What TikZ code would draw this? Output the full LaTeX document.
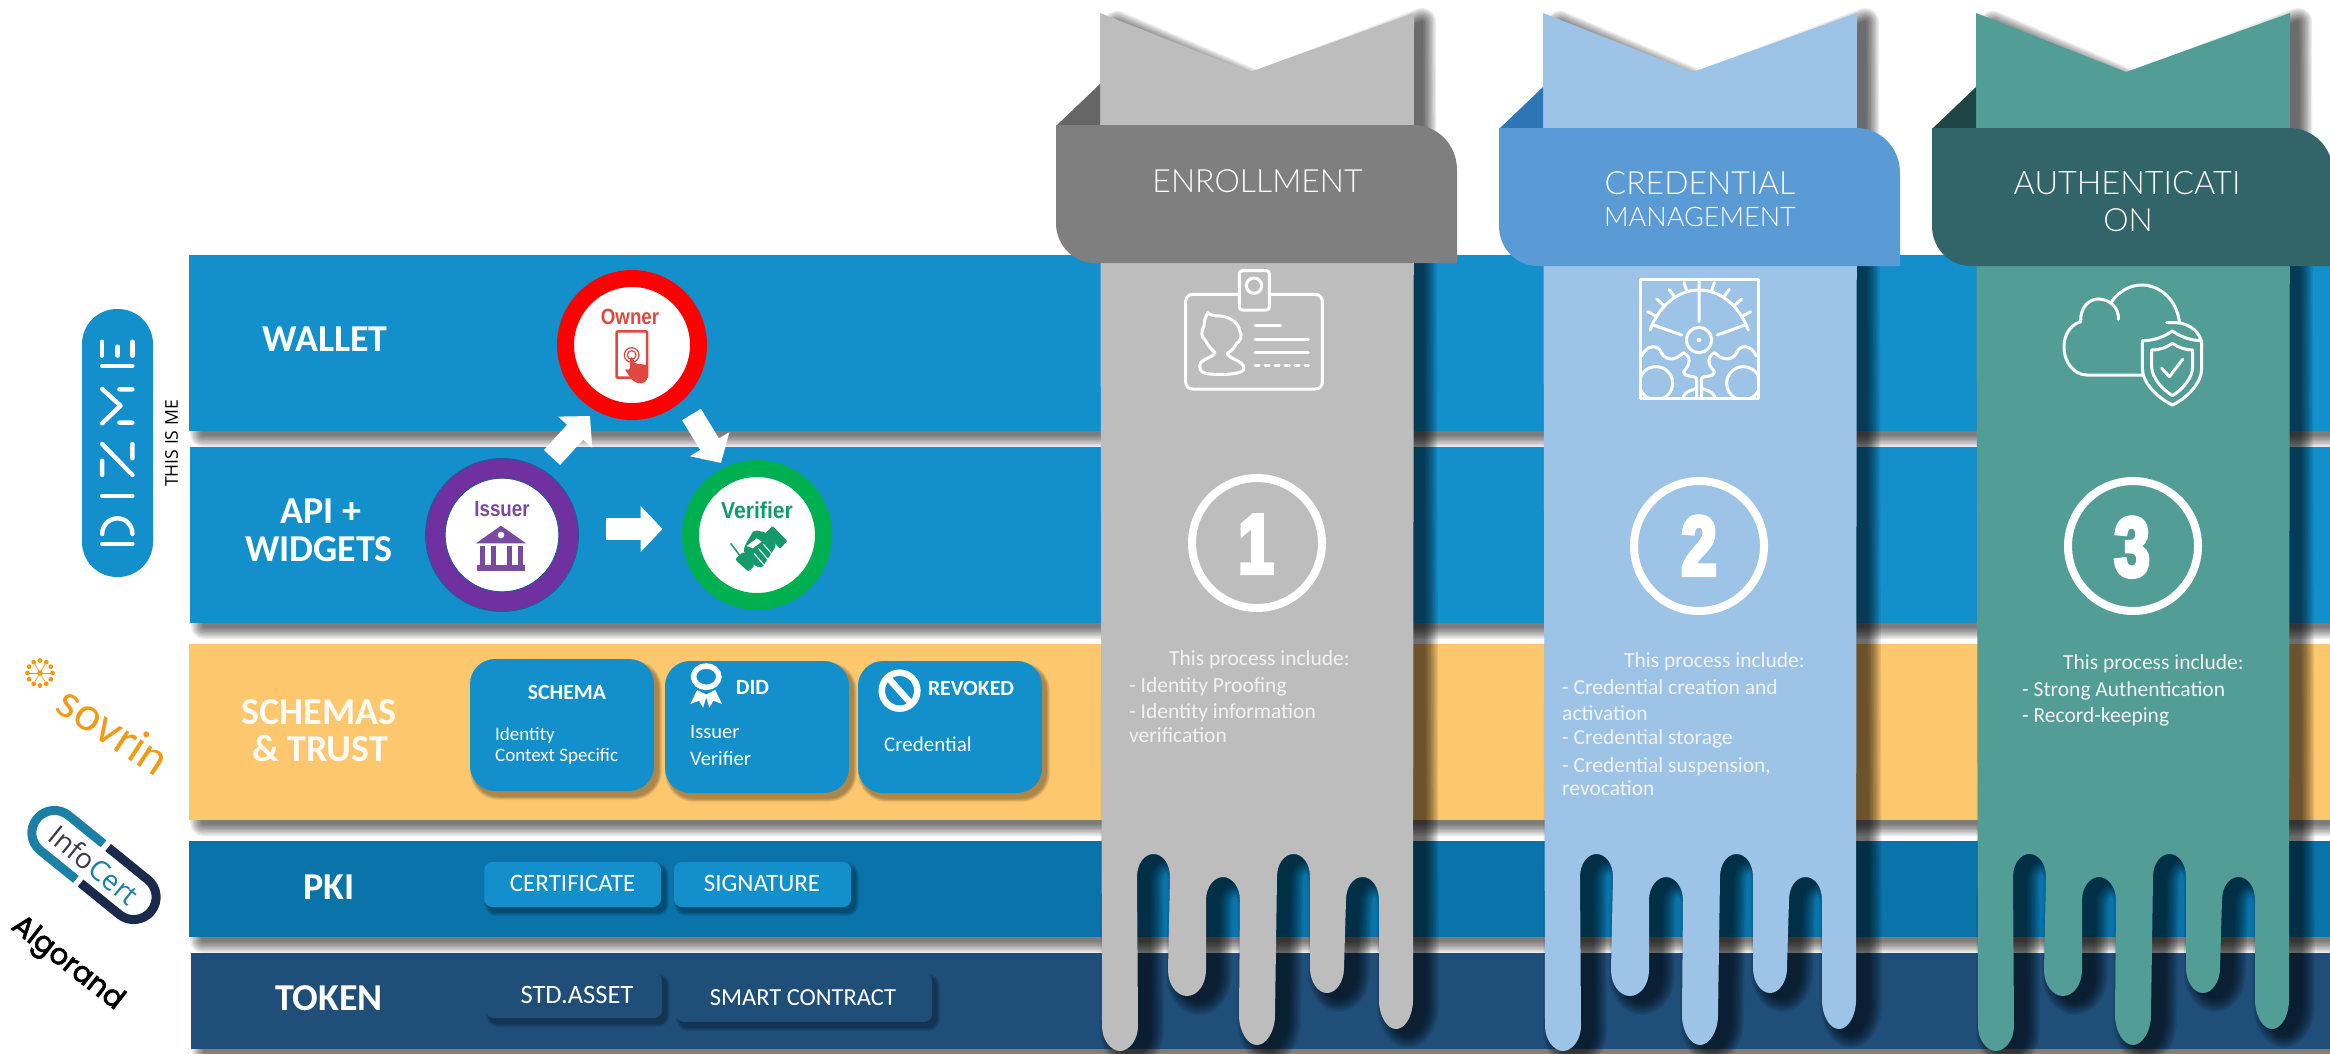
\documentclass[tikz,border=0pt]{standalone}
\usepackage{fontspec}
\usetikzlibrary{arrows.meta,calc}
\setmainfont{Carlito}
\newfontfamily\ltf{Lato Light}
\newfontfamily\latof{Lato}
\newfontfamily\opsf{Open Sans}
\newfontfamily\popf[FakeBold=2.5]{Poppins}
\newfontfamily\lsb{Liberation Sans Bold}
\newfontfamily\impf[FakeBold=5,FakeStretch=.75]{Liberation Sans Bold}
\newcommand\fsz[1]{\fontsize{#1}{#1}\selectfont}
\newcommand\sq[2]{\scalebox{#1}[1]{#2}}
\definecolor{bandblue}{HTML}{138FCC}
\definecolor{bandyellow}{HTML}{FDC76E}
\definecolor{bandpki}{HTML}{0A73A9}
\definecolor{bandtoken}{HTML}{1F4E79}
\definecolor{ribA}{HTML}{BDBDBD}
\definecolor{banA}{HTML}{7F7F7F}
\definecolor{foldA}{HTML}{666666}
\definecolor{ribB}{HTML}{9DC3E6}
\definecolor{banB}{HTML}{5B9BD5}
\definecolor{foldB}{HTML}{2E75B6}
\definecolor{ribC}{HTML}{539D97}
\definecolor{banC}{HTML}{326569}
\definecolor{foldC}{HTML}{1F4545}
\definecolor{ownerred}{HTML}{E0473F}
\definecolor{issuerpur}{HTML}{784B9F}
\definecolor{verifgreen}{HTML}{14996B}
\definecolor{softwhite}{HTML}{F2F2F2}
\definecolor{ringpur}{HTML}{7030A0}
\definecolor{ringedge}{HTML}{2F5597}
\definecolor{ringgreen}{HTML}{00B050}
\definecolor{sovorange}{HTML}{F09A16}
\definecolor{infoteal}{HTML}{1B7FA6}
\definecolor{infonavy}{HTML}{1A2A4A}
\definecolor{infogray}{HTML}{3B3B4B}
\newcommand\softsh[5]{% path, shift, blur total, layers, alpha
  \foreach \i in {1,...,#4}{%
    \pgfmathsetmacro\wid{#3*\i/#4}%
    \begin{scope}[shift={#2},transparency group,opacity=#5]
      \path[fill=black,draw=black,line width=\wid pt,line join=round] #1;
    \end{scope}}}
\def\ribbonBody{(1413,1000)
 .. controls (1413,1016) and (1405,1029) .. (1396,1029) .. controls (1387,1029) and (1379,1016) .. (1379,1000)
 -- (1379,900) .. controls (1379,887) and (1372,877) .. (1362.5,877) .. controls (1353,877) and (1346,887) .. (1346,900)
 -- (1344,968) .. controls (1344,982) and (1336,993) .. (1327,993) .. controls (1318,993) and (1310,982) .. (1310,968)
 -- (1310,877) .. controls (1310,864) and (1303,854) .. (1293.5,854) .. controls (1284,854) and (1277,864) .. (1277,877)
 -- (1275,1015) .. controls (1275,1032) and (1266,1045) .. (1257,1045) .. controls (1248,1045) and (1239,1032) .. (1239,1015)
 -- (1240,900) .. controls (1240,887) and (1232,877) .. (1223,877) .. controls (1214,877) and (1206,887) .. (1206,900)
 -- (1206,970) .. controls (1206,985) and (1197,996) .. (1187,996) .. controls (1177,996) and (1168,985) .. (1168,970)
 -- (1170,877) .. controls (1170,864) and (1163,854) .. (1153.5,854) .. controls (1144,854) and (1137,864) .. (1137,877)
 -- (1138,1026) .. controls (1138,1040) and (1129,1051) .. (1120,1051) .. controls (1111,1051) and (1102,1040) .. (1102,1026)
 -- cycle}
\def\ribbonP{(1100,13) -- (1250,72) -- (1414,13) -- \ribbonBody}
\def\ribbonS{(1105,20) -- (1245,80) -- (1410,17) -- \ribbonBody}
\def\bannerP{(1056,125) -- (1413,125) .. controls (1438,125) and (1457,145) .. (1457,170) -- (1457,263) -- (1095,263)
 .. controls (1073,263) and (1056,245) .. (1056,223) -- cycle}
\tikzset{
  zoomat/.style 2 args={shift={(#1,#2)},x=0.33333pt,y=-0.33333pt},
  zoomwide/.style n args={3}{shift={(#1,#2)},x=#3 pt,y=-0.33333pt},
  headlbl/.style={text=white,anchor=base,inner sep=0pt,font=\bfseries\fsz{38}},
  banlbl/.style={text=white,anchor=base,inner sep=0pt,font=\ltf\fsz{32}},
  boxlbl/.style={text=white,anchor=base,inner sep=0pt},
  boxleft/.style={text=white,anchor=base west,inner sep=0pt},
  bodytxt/.style={text=softwhite,anchor=base west,inner sep=0pt,font=\fsz{21.5}},
  ring/.style={circle,inner sep=0pt,fill=white},
  blockarrow/.style={draw=white,line width=22pt,-{Triangle[length=22pt,width=45pt,fill=white]}},
  iconline/.style={draw=white,line width=3pt,line cap=round,line join=round},
  bignum/.style={circle,draw=white,line width=8pt,minimum size=130pt,inner sep=0pt},
  bigdigit/.style={text=white,inner sep=0pt,anchor=base,font=\impf\fsz{84}},
}
\begin{document}
\begin{tikzpicture}[x=1pt,y=-1pt]
\useasboundingbox (0,0) rectangle (2330,1053);
\fill[white] (0,0) rectangle (2330,1053);
% band shadows
\foreach \xa/\ya/\yb in {189/255/431,190/447/623,189/644/820,189/841/937,191/953/1049}{
  \begin{scope}
    \clip (0,\yb) rectangle (2330,\yb+24);
    \softsh{(\xa,\ya) rectangle (2400,\yb)}{(14,3)}{26}{9}{0.075}
  \end{scope}}
% bands
\fill[bandblue] (189,255) rectangle (2330,431);
\fill[bandblue] (190,447) rectangle (2330,623);
\fill[bandyellow] (189,644) rectangle (2330,820);
\fill[bandpki] (189,841) rectangle (2330,937);
\fill[bandtoken] (191,953) rectangle (2330,1049);
% band labels
\node[headlbl] (lwallet) at (325,351) {WALLET};
\node[headlbl] (lapi) at (321,523) {API +};
\node[headlbl] (lwidgets) at (319,561) {WIDGETS};
\node[headlbl,text=white!92!bandyellow] (lschemas) at (319,724) {SCHEMAS};
\node[headlbl,text=white!92!bandyellow] (ltrust) at (320,761) {\& TRUST};
\node[headlbl] (lpki) at (329,899.5) {PKI};
\node[headlbl] (ltoken) at (329,1010.5) {TOKEN};
% small boxes
\foreach \xa/\ya/\xb/\yb/\r/\c in {470/659/654/791/25/bandblue,665/661/849/793/25/bandblue,858/661/1042/793/25/bandblue,484.4/862/661/907/8/bandblue,674/862/851/907/8/bandblue,486/973/662/1018/8/bandtoken,676/973/932/1022/8/bandtoken}{
  \softsh{[rounded corners=\r pt] (\xa,\ya) rectangle (\xb,\yb)}{(4,5)}{8}{5}{0.07}
  \fill[\c,rounded corners=\r pt] (\xa,\ya) rectangle (\xb,\yb);}
\node[boxlbl,font=\bfseries\fsz{21.7}] (tschema) at (567,699) {SCHEMA};
\node[boxleft,font=\fsz{19}] (tident) at (495,740) {Identity};
\node[boxleft,font=\fsz{19}] (tctx) at (495,761) {Context Specific};
\node[boxlbl,font=\bfseries\fsz{21.7}] (tdid) at (752.5,694) {DID};
\node[boxleft,font=\fsz{20.5}] (tiss) at (690,738.3) {Issuer};
\node[boxleft,font=\fsz{20.5}] (tver) at (690,765) {Verifier};
\node[boxlbl,font=\bfseries\fsz{21.7}] (trev) at (971,695) {REVOKED};
\node[boxleft,font=\fsz{21}] (tcred) at (884,751) {Credential};
\node[boxlbl,font=\fsz{25}] (tcert) at (572.6,891.5) {CERTIFICATE};
\node[boxlbl,font=\fsz{25}] (tsig) at (762,891.5) {SIGNATURE};
\node[boxlbl,font=\fsz{26.5}] (tstd) at (577,1003.5) {STD.ASSET};
\node[boxlbl,font=\fsz{24.5}] (tsmart) at (803,1005.5) {SMART CONTRACT};
% DID medal and revoked icons
\begin{scope}[zoomwide={450}{640}{0.3954}]
  \fill[white] (625,150) -- (608,192) -- (630,182) -- (640,203) -- (650,165) -- cycle;
  \fill[white] (671,150) -- (688,192) -- (666,182) -- (656,203) -- (646,165) -- cycle;
  \draw[white,line width=5.5pt,fill=bandblue] (648,110) circle[radius=32];
  \draw[white,line width=6.5pt] (1137,152) ellipse[x radius=45,y radius=54];
  \draw[white,line width=6.5pt] (1107,112) -- (1167,192);
\end{scope}
% circles
\node[ring,draw=red,line width=17pt,minimum size=133pt] (owner) at (632,345) {};
\node[ring,draw=ringpur,line width=19.5pt,minimum size=133pt] (issuer) at (502,535) {};
\draw[ringedge,line width=1.2pt] (issuer.center) circle[radius=76.4] (issuer.center) circle[radius=57];
\node[ring,draw=ringgreen,line width=17pt,minimum size=133pt] (verifier) at (757,535) {};
\node[text=ownerred,inner sep=0pt,anchor=base,font=\lsb\fsz{22}] (towner) at (630,324) {\sq{.85}{Owner}};
\node[text=issuerpur,inner sep=0pt,anchor=base,font=\lsb\fsz{22}] (tissuer) at (502,516) {\sq{.85}{Issuer}};
\node[text=verifgreen,inner sep=0pt,anchor=base,font=\lsb\fsz{23}] (tverifier) at (757,518.5) {\sq{.92}{Verifier}};
\begin{scope}[zoomat={400}{240}]
  % owner phone
  \draw[ownerred,line width=2.5pt,rounded corners=1pt] (650,274) rectangle (741,413);
  \draw[ownerred,line width=1.2pt] (695,345) circle[radius=22] (695,345) circle[radius=13];
  \fill[ownerred,rounded corners=3pt] (672,385) -- (690,392) -- (689,352) -- (701,352) -- (702,370) -- (743,375) -- (743,420) -- (725,432) -- (700,425) -- cycle;
  % issuer bank
  \fill[issuerpur] (228,910) -- (303,857) -- (378,910) -- cycle;
  \fill[white] (303,885) circle[radius=10];
  \fill[issuerpur] (232,975) rectangle (376,992);
  \foreach \cx in {240,273,320,353}{\fill[issuerpur] (\cx,918) rectangle (\cx+15,975);}
  % verifier handshake
  \draw[verifgreen,line width=1.5pt] (992,910) -- (1022,950);
  \fill[verifgreen,rounded corners=2pt] (1005,958) -- (1030,935) -- (1065,975) -- (1045,995) -- cycle;
  \fill[verifgreen,rounded corners=3pt] (1035,915) -- (1062,870) -- (1100,878) -- (1130,915) -- (1085,985) -- (1060,975) -- (1030,935) -- cycle;
  \fill[verifgreen,rounded corners=1pt] (1118,858) -- (1162,903) -- (1140,926) -- (1096,880) -- cycle;
  \draw[white,line width=1.1pt] (1062,940) -- (1092,975) (1075,925) -- (1105,960) (1090,912) -- (1118,945);
  \fill[white] (1040,918) -- (1070,895) -- (1085,905) -- (1058,925) -- cycle;
\end{scope}
% arrows
\coordinate (a1s) at (552,457.5);
\coordinate (a1e) at (590,416);
\coordinate (a2s) at (691.5,414.5);
\coordinate (a2e) at (721,463);
\coordinate (a3s) at (606,529);
\coordinate (a3e) at (662.5,529);
\draw[blockarrow] (a1s) -- (a1e);
\draw[blockarrow] (a2s) -- (a2e);
\draw[blockarrow] (a3s) -- (a3e);
% ribbons
\foreach \dx/\rc/\bc/\fc/\dy in {0/ribA/banA/foldA/0,443/ribB/banB/foldB/3,876/ribC/banC/foldC/3}{
  \begin{scope}[shift={(\dx,0)}]
    \begin{scope}
      \clip (1100,0) rectangle (2400,1053);
      \softsh{\ribbonS}{(12,5)}{28}{10}{0.077}
    \end{scope}
    \fill[\rc] \ribbonP;
    \begin{scope}[shift={(0,\dy)}]
      \fill[\fc] (1056,126) -- (1100,84) -- (1100,126) -- cycle;
      \fill[\bc] \bannerP;
    \end{scope}
  \end{scope}}
% banner titles
\node[banlbl] (benr) at (1257.5,192.5) {ENROLLMENT};
\node[banlbl] (bcre) at (1700,194) {CREDENTIAL};
\node[banlbl,font=\ltf\fsz{27}] (bman) at (1700,226) {MANAGEMENT};
\node[banlbl,font=\ltf\fsz{32.5}] (baut) at (2127,194) {AUTHENTICATI};
\node[banlbl,font=\ltf\fsz{32}] (bon) at (2128,231.7) {ON};
% badge icon
\begin{scope}[zoomat={1040}{0}]
  \draw[iconline,rounded corners=7pt] (437,883) rectangle (847,1167);
  \draw[iconline,fill=ribA,rounded corners=3pt] (598,812) rectangle (688,930);
  \draw[iconline] (642,857) circle[radius=23];
  \draw[iconline] (503,938) .. controls (510,945) and (520,948) .. (540,948) .. controls (575,950) and (598,975) .. (598,990) .. controls (610,1005) and (600,1025) .. (590,1030) .. controls (582,1045) and (572,1055) .. (562,1060) .. controls (562,1075) and (612,1082) .. (612,1105) .. controls (612,1125) and (540,1125) .. (510,1122) .. controls (478,1122) and (475,1100) .. (482,1088) .. controls (492,1075) and (520,1072) .. (525,1058) .. controls (510,1045) and (500,1030) .. (497,1022) .. controls (480,1010) and (485,990) .. (492,978) .. controls (492,960) and (498,950) .. (503,938) -- cycle;
  \draw[iconline] (645,975) -- (722,975) (645,1017) -- (805,1017) (645,1058) -- (805,1058);
  \draw[iconline,dash pattern=on 4pt off 6pt] (645,1095) -- (805,1095);
\end{scope}
% gear icon
\begin{scope}[zoomat={1480}{0}]
  \begin{scope}
    \clip (480,838) rectangle (836,1195);
    \draw[iconline] (528,1150) circle[radius=50] (790,1150) circle[radius=50];
    \draw[iconline] (485,1068) .. controls (500,1035) and (535,1030) .. (545,1060) .. controls (560,1085) and (590,1080) .. (610,1058) .. controls (640,1075) and (625,1100) .. (610,1115) .. controls (615,1135) and (645,1125) .. (650,1135) -- (650,1190);
    \draw[iconline] (829,1068) .. controls (814,1035) and (779,1030) .. (769,1060) .. controls (754,1085) and (724,1080) .. (704,1058) .. controls (674,1075) and (689,1100) .. (704,1115) .. controls (699,1135) and (669,1125) .. (664,1135) -- (664,1190);
    \draw[iconline] (610,1190) .. controls (620,1170) and (640,1170) .. (650,1165) (704,1190) .. controls (694,1170) and (674,1170) .. (664,1165);
  \end{scope}
  \draw[iconline] (480,838) rectangle (836,1195);
  \draw[iconline] (510,990) .. controls (540,910) and (600,870) .. (657,870) .. controls (715,870) and (775,910) .. (805,990);
  \draw[iconline] (503,935) -- (525,947) (530,897) -- (550,915) (567,868) -- (582,888) (612,848) -- (620,872) (703,848) -- (695,872) (748,868) -- (733,888) (785,897) -- (765,915) (812,935) -- (790,947);
  \draw[iconline] (657,845) -- (657,965) (520,975) -- (605,1005) (795,975) -- (712,1005);
  \draw[iconline] (657,1020) circle[radius=38];
  \fill[white] (657,1020) circle[radius=7];
\end{scope}
% cloud icon
\begin{scope}[zoomat={1910}{0}]
  \draw[iconline] (625,958) .. controls (628,925) and (600,897) .. (565,897) .. controls (535,897) and (510,925) .. (512,965) .. controls (480,975) and (462,1005) .. (462,1040) .. controls (462,1090) and (495,1125) .. (530,1125) -- (700,1125);
  \draw[iconline] (605,905) .. controls (625,875) and (660,855) .. (695,855) .. controls (750,855) and (800,900) .. (808,965);
  \draw[iconline] (770,968) -- (800,968) .. controls (840,970) and (875,1000) .. (875,1035);
  \draw[iconline] (697,1022) .. controls (730,1022) and (760,1012) .. (787,993) .. controls (815,1012) and (845,1022) .. (875,1022) -- (875,1105) .. controls (875,1150) and (830,1195) .. (787,1215) .. controls (745,1195) and (697,1150) .. (697,1105) -- cycle;
  \draw[iconline] (725,1050) .. controls (750,1050) and (770,1042) .. (787,1030) .. controls (805,1042) and (825,1050) .. (848,1050) -- (848,1100) .. controls (848,1135) and (815,1170) .. (787,1187) .. controls (760,1170) and (725,1135) .. (725,1100) -- cycle;
  \draw[iconline] (755,1105) -- (778,1130) -- (818,1078);
\end{scope}
% numbers
\node[bignum] (n1) at (1257,543) {};
\node[bigdigit] (d1) at (1256,573) {1};
\node[bignum] (n2) at (1699,546) {};
\node[bigdigit] (d2) at (1699,575) {2};
\node[bignum] (n3) at (2133,546) {};
\node[bigdigit] (d3) at (2132,576) {3};
% column text
\node[bodytxt] (c1a) at (1169,665) {This process include:};
\node[bodytxt] (c1b) at (1129,692) {- Identity Proofing};
\node[bodytxt] (c1c) at (1129,718) {- Identity information};
\node[bodytxt] (c1d) at (1129,742) {verification};
\node[bodytxt] (c2a) at (1624,667) {This process include:};
\node[bodytxt] (c2b) at (1562,694) {- Credential creation and};
\node[bodytxt] (c2c) at (1562,720) {activation};
\node[bodytxt] (c2d) at (1562,744) {- Credential storage};
\node[bodytxt] (c2e) at (1562,772) {- Credential suspension,};
\node[bodytxt] (c2f) at (1562,795) {revocation};
\node[bodytxt] (c3a) at (2063,669) {This process include:};
\node[bodytxt] (c3b) at (2022,696) {- Strong Authentication};
\node[bodytxt] (c3c) at (2022,722) {- Record-keeping};
% DIZME pill
\fill[bandblue,rounded corners=35pt] (82,309) rectangle (153,577);
\begin{scope}[zoomwide={0}{240}{0.38265}]
  \begin{scope}[line width=4.4pt,line cap=round,line join=round,white]
    \draw (267,305) -- (267,347) (307,320) -- (307,347) (346,305) -- (346,347) (267,378) -- (346,378);
    \draw (312,448) -- (346,448) (267,447) -- (315,497) -- (267,550) (312,548) -- (346,548);
    \draw (267,612) -- (346,705) (346,612) -- (346,655) (267,662) -- (267,705);
    \draw (267,768) -- (346,768);
    \draw (267,912) -- (346,912);
    \draw (267,882) .. controls (267,855) and (285,835) .. (307,835) .. controls (329,835) and (346,855) .. (346,882);
  \end{scope}
\end{scope}
\node[rotate=90,inner sep=0pt,text=black,font=\opsf\fsz{17.6}] (tim) at (171.5,443.5) {THIS IS ME};
% sovrin logo
\coordinate (sovc) at (40,673);
\fill[sovorange] (sovc) circle[radius=2.8];
\foreach \a in {0,30,...,330}{
  \fill[sovorange] ($(sovc)+(\a:12.5)$) circle[radius=2.4];}
\foreach \a in {0,60,...,300}{
  \draw[sovorange,line width=.7pt] (sovc) -- ($(sovc)+(\a:12.5)$);}
\node[rotate=-33,text=sovorange,inner sep=0pt,font=\latof\fsz{46}] (sov) at (114,730) {sovrin};
% infocert logo
\begin{scope}[shift={(94,865)},rotate=-39]
  \draw[infoteal,line width=9pt] (-6,-22.5) -- (-51,-22.5) .. controls (-63.4,-22.5) and (-73.5,-12.4) .. (-73.5,0) .. controls (-73.5,12.4) and (-63.4,22.5) .. (-51,22.5) -- (-5,22.5);
  \draw[infonavy,line width=9pt] (0,-22.5) -- (51,-22.5) .. controls (63.4,-22.5) and (73.5,-12.4) .. (73.5,0) .. controls (73.5,12.4) and (63.4,22.5) .. (51,22.5) -- (1,22.5);
\end{scope}
\node[rotate=-39,inner sep=0pt,font=\opsf\fsz{28}] (info) at (94,865) {\textcolor{infogray}{Info}\textcolor{infoteal}{Cert}};
% algorand logo
\node[rotate=-38,inner sep=0pt,text=black,font=\popf\fsz{29}] (algo) at (67,964) {Algorand};
\end{tikzpicture}
\end{document}
